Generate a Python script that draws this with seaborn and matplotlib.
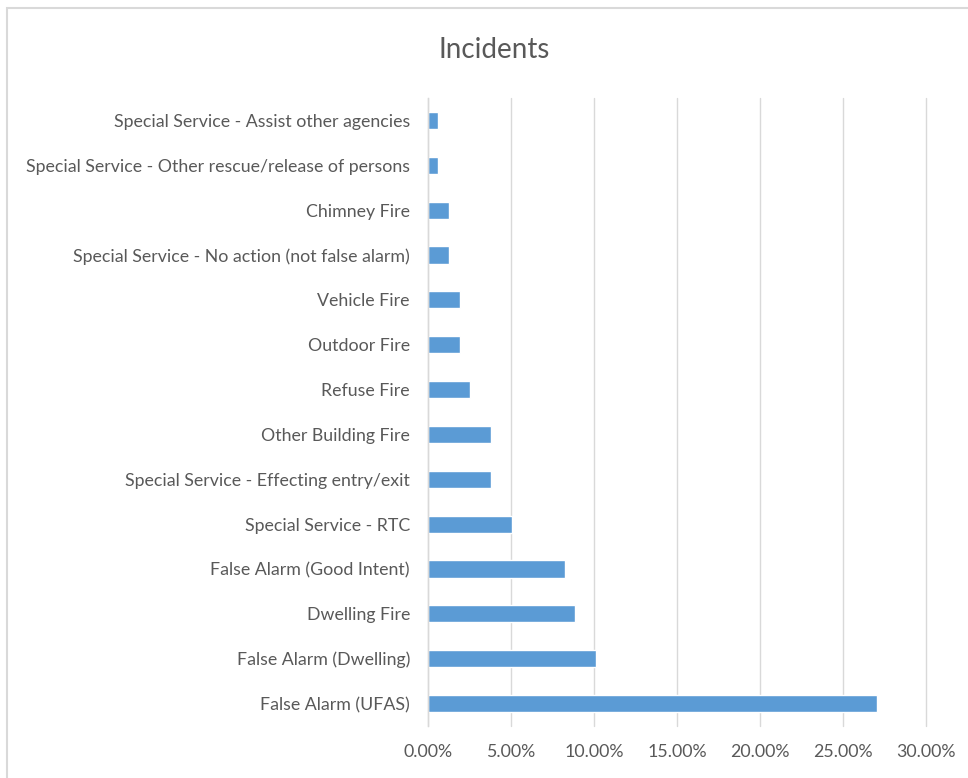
import matplotlib
matplotlib.use("Agg")
import matplotlib.pyplot as plt
import seaborn as sns
import pandas as pd
from matplotlib.patches import Rectangle
from matplotlib.ticker import FuncFormatter

categories = [
    "Special Service - Assist other agencies",
    "Special Service - Other rescue/release of persons",
    "Chimney Fire",
    "Special Service - No action (not false alarm)",
    "Vehicle Fire",
    "Outdoor Fire",
    "Refuse Fire",
    "Other Building Fire",
    "Special Service - Effecting entry/exit",
    "Special Service - RTC",
    "False Alarm (Good Intent)",
    "Dwelling Fire",
    "False Alarm (Dwelling)",
    "False Alarm (UFAS)",
]
shares = [0.63, 0.63, 1.27, 1.27, 1.90, 1.90, 2.53, 3.80, 3.80, 5.06, 8.23, 8.86, 10.13, 27.07]
x_ticks = [0, 5, 10, 15, 20, 25, 30]

df = pd.DataFrame({"Incident": categories, "Share": shares})

sns.set_style("white")
plt.rcParams["font.family"] = ["Lato", "DejaVu Sans"]

W, H = 968, 778
fig = plt.figure(figsize=(W / 100, H / 100), dpi=100)
ax = fig.add_axes([428 / W, 1 - 726 / H, 498 / W, 628 / H])

sns.barplot(data=df, y="Incident", x="Share", color="#5B9BD5", width=0.38,
            saturation=1, ax=ax, orient="h")

ax.set_xlim(0, 30)
ax.set_ylim(len(categories) - 0.5, -0.5)
ax.set_xticks(x_ticks)
ax.xaxis.set_major_formatter(FuncFormatter(lambda v, p: f"{v:.2f}%"))
ax.grid(axis="x", color="#D9D9D9", linewidth=1)
for gl in ax.get_xgridlines():
    gl.set_clip_on(False)
ax.set_axisbelow(True)
for s in ["top", "right", "bottom"]:
    ax.spines[s].set_visible(False)
ax.spines["left"].set_color("#D9D9D9")
ax.spines["left"].set_linewidth(1)
ax.tick_params(axis="both", length=0, labelsize=12.8, colors="#595959")
ax.tick_params(axis="y", pad=13)
ax.tick_params(axis="x", pad=13)
ax.set_xlabel("")
ax.set_ylabel("")

fig.text(494 / W, 1 - 50 / H, "Incidents", ha="center", va="center",
         fontsize=20, color="#595959")

# chart area border
fig.patches.append(Rectangle((7 / W, -0.05), 1.1, 1 - 8 / H + 0.05,
                             transform=fig.transFigure, fill=False,
                             edgecolor="#D9D9D9", linewidth=1.5))

fig.savefig("out.png", dpi=100)
